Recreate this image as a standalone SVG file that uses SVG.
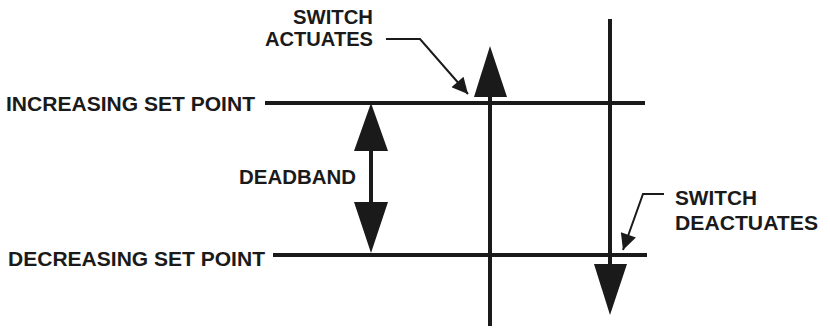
<svg xmlns="http://www.w3.org/2000/svg" width="830" height="330" viewBox="0 0 830 330">
  <style>
    .lbl { font-family: "Liberation Sans", Arial, sans-serif; font-weight: bold; font-size: 20.5px; fill: #1a1a1a; }
    .thick { stroke: #1a1a1a; stroke-width: 4; fill: none; }
    .thin { stroke: #1a1a1a; stroke-width: 2; fill: none; }
    .head { fill: #1a1a1a; stroke: none; }
  </style>
  <defs>
    <marker id="ah" viewBox="0 0 10 10" refX="10" refY="5" markerWidth="10" markerHeight="8" markerUnits="strokeWidth" orient="auto">
      <path d="M0,0 L10,5 L0,10 Z" fill="#1a1a1a"/>
    </marker>
  </defs>
  <rect width="830" height="330" fill="#ffffff"/>

  <g id="increasing-set-point">
    <text class="lbl" x="6" y="111" textLength="249" lengthAdjust="spacingAndGlyphs">INCREASING SET POINT</text>
    <line class="thick" x1="265" y1="103" x2="645" y2="103"/>
  </g>

  <g id="decreasing-set-point">
    <text class="lbl" x="8" y="266" textLength="257" lengthAdjust="spacingAndGlyphs">DECREASING SET POINT</text>
    <line class="thick" x1="273" y1="255" x2="647" y2="255"/>
  </g>

  <g id="deadband">
    <text class="lbl" x="239" y="184" textLength="117" lengthAdjust="spacingAndGlyphs">DEADBAND</text>
    <line class="thick" x1="371" y1="150" x2="371" y2="203"/>
    <polygon class="head" points="371,103 354,151 388,151"/>
    <polygon class="head" points="371,253 354,202 388,202"/>
  </g>

  <g id="actuate-axis">
    <line class="thick" x1="490" y1="95" x2="490" y2="326"/>
    <polygon class="head" points="490,46 474,97 507,97"/>
  </g>

  <g id="deactuate-axis">
    <line class="thick" x1="610" y1="19" x2="610" y2="266"/>
    <polygon class="head" points="610,315 594,264 627,264"/>
  </g>

  <g id="switch-actuates">
    <text class="lbl" x="373" y="23.5" text-anchor="end" textLength="80" lengthAdjust="spacingAndGlyphs">SWITCH</text>
    <text class="lbl" x="373" y="46" text-anchor="end" textLength="108" lengthAdjust="spacingAndGlyphs">ACTUATES</text>
  </g>

  <g id="switch-deactuates">
    <text class="lbl" x="675" y="205" textLength="82" lengthAdjust="spacingAndGlyphs">SWITCH</text>
    <text class="lbl" x="675" y="230" textLength="143" lengthAdjust="spacingAndGlyphs">DEACTUATES</text>
  </g>

  <g id="connectors">
    <polyline class="thin" points="386,39 420,39 468,94" marker-end="url(#ah)"/>
    <polyline class="thin" points="664,194 643,194 623,250" marker-end="url(#ah)"/>
  </g>
</svg>
